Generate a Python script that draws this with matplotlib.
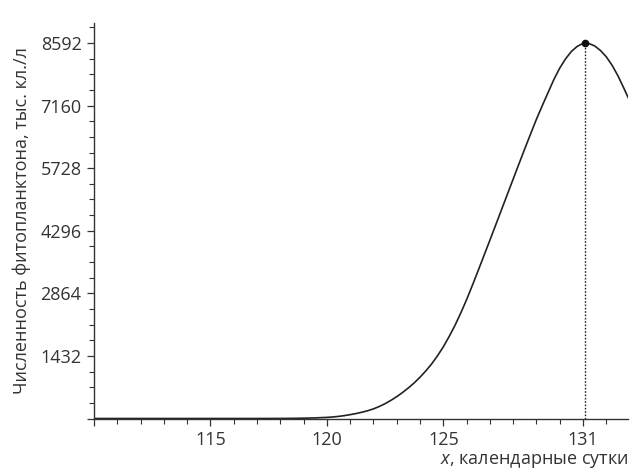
import matplotlib
matplotlib.use('Agg')
import matplotlib.pyplot as plt
import numpy as np
from matplotlib.ticker import FixedLocator, FixedFormatter

plt.rcParams['font.family'] = ['Open Sans', 'DejaVu Sans']
plt.rcParams['mathtext.fontset'] = 'custom'
plt.rcParams['mathtext.it'] = 'Open Sans:italic'
plt.rcParams['mathtext.rm'] = 'Open Sans'

# значения (сутки, тыс. кл./л)
days = [110, 112, 114, 116, 117, 118, 118.5, 119, 119.5,
        120, 120.25, 120.5, 120.75, 121, 121.25, 121.5, 121.75,
        122, 122.25, 122.5, 122.75, 123, 123.25, 123.5, 123.75,
        124, 124.25, 124.5, 124.75, 125, 125.25, 125.5, 125.75,
        126, 126.25, 126.5, 126.75, 127, 127.25, 127.5, 127.75,
        128, 128.25, 128.5, 128.75, 129, 129.25, 129.5, 129.75,
        130, 130.25, 130.5, 130.75, 131, 131.07, 131.25, 131.5, 131.75,
        132, 132.25, 132.5, 132.75, 132.93]
counts = [0, 0, 0, 0, 0, 1, 3, 7, 14,
          25, 35, 48, 66, 88, 113, 143, 178,
          220, 275, 340, 415, 500, 595, 700, 815,
          945, 1090, 1250, 1435, 1640, 1875, 2130, 2415,
          2720, 3050, 3390, 3735, 4080, 4430, 4780, 5130,
          5480, 5830, 6175, 6515, 6850, 7160, 7460, 7760,
          8020, 8230, 8400, 8515, 8585, 8592, 8580, 8525, 8420,
          8275, 8080, 7840, 7560, 7350]

peak_day = 131.07
peak_value = 8592

x_major = [110, 115, 120, 125, 131]
x_major_labels = ['', '115', '120', '125', '131']
x_minor = [d for d in range(110, 133) if d not in x_major]
y_major = [0, 1432, 2864, 4296, 5728, 7160, 8592]
y_major_labels = ['', '1432', '2864', '4296', '5728', '7160', '8592']
y_minor = [k * 358 for k in range(0, 26) if k % 4 != 0]

txt = '#333333'

fig = plt.figure(figsize=(6.38, 4.76), dpi=100)
ax = fig.add_axes([94 / 638, 1 - 418.5 / 476, (628 - 94) / 638, (418.5 - 23) / 476])

ax.plot(days, counts, color='#222222', lw=1.2, solid_joinstyle='round')
ax.plot([peak_day, peak_day], [0, peak_value], color='#222222', lw=1.0,
        linestyle=(0, (1.2, 1.2)))
ax.plot([peak_day], [peak_value], 'o', color='#111111', ms=4.5)

ax.set_xlim(110, 132.93)
ax.set_ylim(0, 9050)

ax.spines['top'].set_visible(False)
ax.spines['right'].set_visible(False)
for s in ['left', 'bottom']:
    ax.spines[s].set_color('#333333')
    ax.spines[s].set_linewidth(1.0)

ax.xaxis.set_major_locator(FixedLocator(x_major))
ax.xaxis.set_major_formatter(FixedFormatter(x_major_labels))
ax.xaxis.set_minor_locator(FixedLocator(x_minor))
ax.yaxis.set_major_locator(FixedLocator(y_major))
ax.yaxis.set_major_formatter(FixedFormatter(y_major_labels))
ax.yaxis.set_minor_locator(FixedLocator(y_minor))

ax.tick_params(which='major', length=5, width=0.9, color='#333333',
               labelsize=13, labelcolor=txt, pad=4)
ax.tick_params(which='minor', length=3.3, width=0.8, color='#333333')

ax.set_ylabel('Численность фитопланктона, тыс. кл./л', fontsize=13, color=txt)
ax.yaxis.set_label_coords(-0.118, 0.5)
ax.set_xlabel('$x$, календарные сутки', fontsize=13, color=txt)
ax.xaxis.set_label_coords(1.0, -0.085)
ax.xaxis.label.set_horizontalalignment('right')

fig.savefig('out.png', dpi=100)
